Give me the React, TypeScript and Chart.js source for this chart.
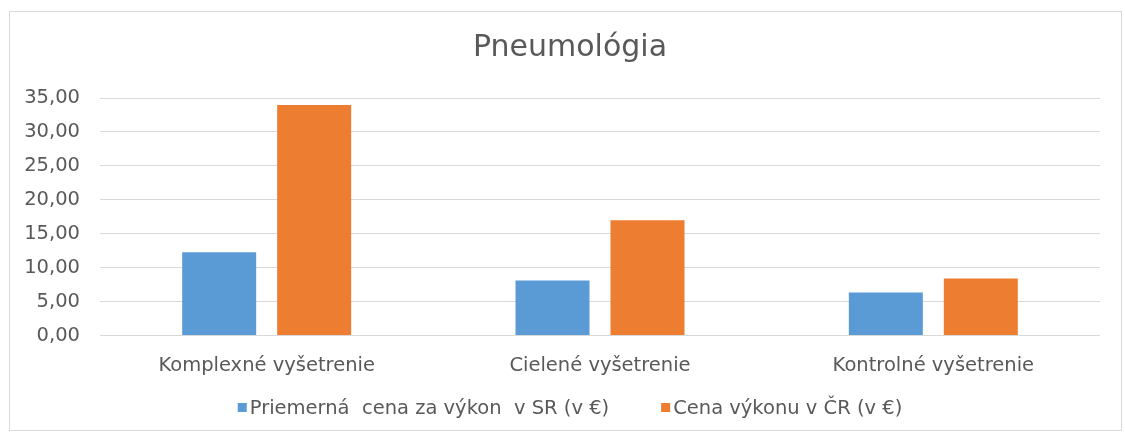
import React, { useEffect, useRef } from "react";
import { Chart, registerables } from "chart.js";

Chart.register(...registerables);

const chartTitle = "Pneumológia";
const categories = ["Komplexné vyšetrenie", "Cielené vyšetrenie", "Kontrolné vyšetrenie"];
const seriesNames = ["Priemerná  cena za výkon  v SR (v €)", "Cena výkonu v ČR (v €)"];
const srValues = [12.26, 8.12, 6.35];
const crValues = [33.97, 16.98, 8.42];
const yMin = 0;
const yMax = 35;
const yStep = 5;

const FONT = "'DejaVu Sans', 'Liberation Sans', Arial, sans-serif";
const TEXT = "#595959";
const BLUE = "#5B9BD5";
const ORANGE = "#ED7D31";
const GRID = "#d9d9d9";

const PAD_LEFT = 10;
const PAD_RIGHT = 25;
const TITLE_CENTER_SHIFT = 15;

const titleShiftPlugin = {
  id: "titleShift",
  afterLayout(chart: any) {
    if (chart.titleBlock) chart.titleBlock.left += TITLE_CENTER_SHIFT * 2;
  },
};

const legendPlugin = {
  id: "customLegend",
  afterDraw(chart: any) {
    const ctx = chart.ctx as CanvasRenderingContext2D;
    const fontSize = 19.5;
    ctx.save();
    ctx.font = `${fontSize}px ${FONT}`;
    ctx.textBaseline = "alphabetic";
    ctx.textAlign = "left";
    const box = 9;
    const gap = 3;
    const itemGap = 52;
    const items = chart.data.datasets.map((ds: any) => ({
      text: ds.label as string,
      color: ds.backgroundColor as string,
      w: ctx.measureText(ds.label).width,
    }));
    const total =
      items.reduce((s: number, it: any) => s + box + gap + it.w, 0) + itemGap * (items.length - 1);
    const center = (PAD_LEFT + chart.width - PAD_RIGHT) / 2 + TITLE_CENTER_SHIFT;
    let x = center - total / 2;
    const baseline = 414;
    items.forEach((it: any) => {
      ctx.fillStyle = it.color;
      ctx.fillRect(x, baseline - 11, box, box);
      ctx.fillStyle = TEXT;
      ctx.fillText(it.text, x + box + gap, baseline);
      x += box + gap + it.w + itemGap;
    });
    ctx.restore();
  },
};

export default function App() {
  const canvasRef = useRef<HTMLCanvasElement | null>(null);

  useEffect(() => {
    if (!canvasRef.current) return;
    const chart = new Chart(canvasRef.current, {
      type: "bar",
      data: {
        labels: categories,
        datasets: [
          {
            label: seriesNames[0],
            data: srValues,
            backgroundColor: BLUE,
            borderWidth: 0,
            categoryPercentage: 0.57,
            barPercentage: 0.779,
          },
          {
            label: seriesNames[1],
            data: crValues,
            backgroundColor: ORANGE,
            borderWidth: 0,
            categoryPercentage: 0.57,
            barPercentage: 0.779,
          },
        ],
      },
      options: {
        responsive: false,
        animation: false,
        layout: { padding: { left: PAD_LEFT, right: PAD_RIGHT, top: 0, bottom: 45 } },
        plugins: {
          legend: { display: false },
          tooltip: { enabled: false },
          title: {
            display: true,
            text: chartTitle,
            color: TEXT,
            font: { family: FONT, size: 30, weight: "normal" },
            padding: { top: 30, bottom: 32 },
          },
        },
        scales: {
          x: {
            grid: { display: false },
            border: { display: false },
            ticks: {
              color: TEXT,
              font: { family: FONT, size: 19.5 },
              padding: 11,
              maxRotation: 0,
            },
          },
          y: {
            min: yMin,
            max: yMax,
            afterFit(scale: any) {
              scale.width = 100 - PAD_LEFT;
            },
            grid: { color: GRID, lineWidth: 1, drawTicks: false },
            border: { display: false },
            ticks: {
              stepSize: yStep,
              color: TEXT,
              font: { family: FONT, size: 19.5 },
              padding: 20,
              callback: (v: any) => Number(v).toFixed(2).replace(".", ","),
            },
          },
        },
      },
      plugins: [titleShiftPlugin, legendPlugin],
    });
    return () => chart.destroy();
  }, []);

  return (
    <div style={{ position: "absolute", left: 0, top: 0, width: 1125, height: 434, background: "#fff" }}>
      <canvas ref={canvasRef} width={1125} height={434} style={{ position: "absolute", left: 0, top: 0 }} />
      <div
        style={{
          position: "absolute",
          left: 9,
          top: 11,
          width: 1111,
          height: 418,
          border: "1px solid #d9d9d9",
          pointerEvents: "none",
        }}
      />
    </div>
  );
}
